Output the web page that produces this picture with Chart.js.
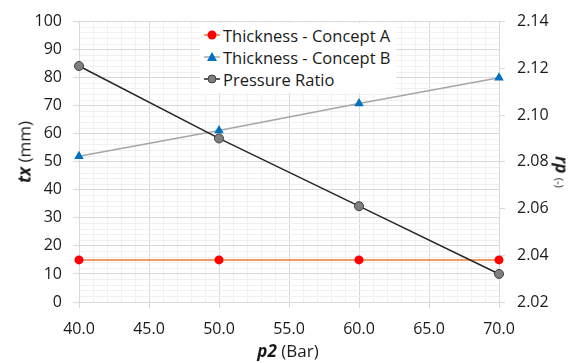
<!DOCTYPE html>
<html>
<head>
<meta charset="utf-8">
<script src="https://cdn.jsdelivr.net/npm/chart.js@4.4.1/dist/chart.umd.min.js"></script>
<style>
  html, body { margin: 0; padding: 0; background: #fff; }
  #wrap { position: relative; width: 577px; height: 363px; font-family: 'Open Sans', sans-serif; color: #1a1a1a; }
  canvas { position: absolute; left: 0; top: 0; }
  .title { position: absolute; white-space: nowrap; font-size: 17px; line-height: 1; }
  .title b { font-style: italic; }
  #legend { position: absolute; left: 200px; top: 23px; width: 196px; height: 70px; background: #fff; font-size: 16.5px; }
  .row { position: absolute; left: 4px; height: 22px; display: flex; align-items: center; }
  .row svg { margin-right: 2px; }
</style>
</head>
<body>
<div id="wrap">
  <canvas id="chart" width="577" height="363"></canvas>
  <div id="legend"></div>
  <div class="title" style="left:24px;top:152px;transform:translate(-50%,-50%) rotate(-90deg)"><b>tx</b> (mm)</div>
  <div class="title" style="left:562px;top:172px;transform:translate(-50%,-50%) rotate(90deg)"><b>rp</b> <span style="font-size:11px">(-)</span></div>
  <div class="title" style="left:288px;top:350px;transform:translate(-50%,-50%)"><b>p2</b> (Bar)</div>
</div>
<script>
const pressures = [40, 50, 60, 70];
const thicknessA = [15, 15, 15, 15];
const thicknessB = [52, 61.2, 70.8, 80];
const pressureRatio = [2.121, 2.090, 2.061, 2.032];

const seriesNames = ['Thickness - Concept A', 'Thickness - Concept B', 'Pressure Ratio'];

const MAJOR = '#d9d9d9';
const MINOR = '#f0f0f0';
const tickFont = { family: "'Open Sans', sans-serif", size: 16 };

const points = (ys) => pressures.map((x, i) => ({ x, y: ys[i] }));
const isMajor = (v, step) => Math.abs(v / step - Math.round(v / step)) < 1e-6;

// legend drawn in html so it can stack inside the plot like the excel one
const legendItems = [
  { line: '#ed7d31', marker: '<circle cx="8" cy="6" r="4.5" fill="#ff0000"/>' },
  { line: '#a6a6a6', marker: '<polygon points="8,1 13,10 3,10" fill="#0070c0"/>' },
  { line: '#262626', marker: '<circle cx="8" cy="6" r="4" fill="#7f7f7f" stroke="#404040" stroke-width="1"/>' }
];
document.getElementById('legend').innerHTML = legendItems.map((item, i) =>
  `<div class="row" style="top:${i * 22 + 1}px"><svg width="17" height="12"><line x1="0" y1="6" x2="16" y2="6" stroke="${item.line}" stroke-width="1.5"/>${item.marker}</svg><span>${seriesNames[i]}</span></div>`
).join('');

new Chart(document.getElementById('chart'), {
  type: 'scatter',
  data: {
    datasets: [
      {
        label: seriesNames[0], data: points(thicknessA), yAxisID: 'y', showLine: true, order: 3,
        borderColor: '#ed7d31', borderWidth: 1.5, pointStyle: 'circle', pointRadius: 4.5,
        pointBackgroundColor: '#ff0000', pointBorderColor: '#ff0000', pointBorderWidth: 0
      },
      {
        label: seriesNames[1], data: points(thicknessB), yAxisID: 'y', showLine: true, order: 2,
        borderColor: '#a6a6a6', borderWidth: 1.5, pointStyle: 'triangle', pointRadius: 5.5,
        pointBackgroundColor: '#0070c0', pointBorderColor: '#0070c0', pointBorderWidth: 0
      },
      {
        label: seriesNames[2], data: points(pressureRatio), yAxisID: 'y1', showLine: true, order: 1,
        borderColor: '#262626', borderWidth: 1.5, pointStyle: 'circle', pointRadius: 4.5,
        pointBackgroundColor: '#7f7f7f', pointBorderColor: '#404040', pointBorderWidth: 1
      }
    ]
  },
  options: {
    responsive: false,
    animation: false,
    layout: { padding: { top: 19, left: 0, right: 0, bottom: 0 } },
    plugins: { legend: { display: false }, tooltip: { enabled: false } },
    elements: { line: { tension: 0 } },
    clip: false,
    scales: {
      x: {
        type: 'linear', min: 40, max: 70,
        afterFit: (s) => { s.height = 61; },
        ticks: {
          stepSize: 1, autoSkip: false, maxRotation: 0, padding: 12,
          font: tickFont, color: '#1a1a1a',
          callback: (v) => isMajor(v, 5) ? v.toFixed(1) : ''
        },
        grid: {
          color: (c) => isMajor(c.tick.value, 5) ? MAJOR : MINOR,
          tickColor: (c) => isMajor(c.tick.value, 5) ? MAJOR : 'rgba(0,0,0,0)',
          tickLength: 6
        },
        border: { color: MAJOR }
      },
      y: {
        type: 'linear', position: 'left', min: 0, max: 100,
        afterFit: (s) => { s.width = 79; },
        ticks: {
          stepSize: 2, autoSkip: false, padding: 11,
          font: tickFont, color: '#1a1a1a',
          callback: (v) => isMajor(v, 10) ? String(v) : ''
        },
        grid: {
          color: (c) => isMajor(c.tick.value, 10) ? MAJOR : MINOR,
          tickColor: (c) => isMajor(c.tick.value, 10) ? MAJOR : 'rgba(0,0,0,0)',
          tickLength: 6
        },
        border: { color: MAJOR }
      },
      y1: {
        type: 'linear', position: 'right', min: 2.02, max: 2.14,
        afterFit: (s) => { s.width = 78; },
        ticks: {
          stepSize: 0.02, autoSkip: false, padding: 12,
          font: tickFont, color: '#1a1a1a',
          callback: (v) => v.toFixed(2)
        },
        grid: { drawOnChartArea: false, color: MAJOR, tickColor: MAJOR, tickLength: 6 },
        border: { color: MAJOR }
      }
    }
  }
});
</script>
</body>
</html>
